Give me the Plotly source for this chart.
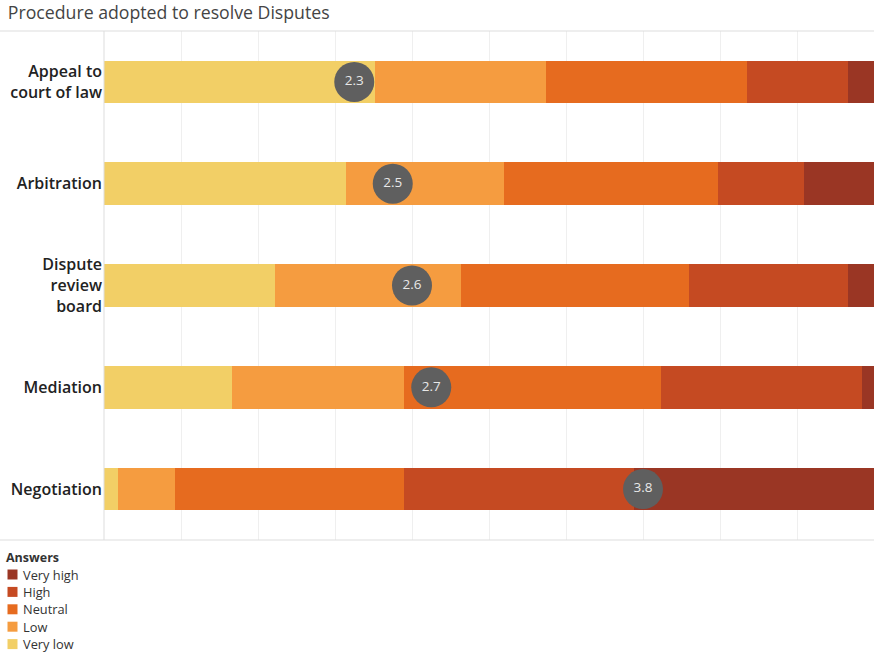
import plotly.graph_objects as go

categories = ["Appeal to<br>court of law", "Arbitration", "Dispute<br>review<br>board", "Mediation", "Negotiation"]
answers = ["Very low", "Low", "Neutral", "High", "Very high"]
colors = ["#F2CF66", "#F59C40", "#E66B1F", "#C54A22", "#9A3624"]

very_low = [35.2, 31.4, 22.2, 16.6, 1.8]
low = [22.2, 20.5, 24.2, 22.4, 7.4]
neutral = [26.1, 27.8, 29.6, 33.3, 29.8]
high = [13.1, 11.2, 20.6, 26.1, 29.8]
very_high = [3.4, 9.1, 3.4, 1.6, 31.2]
series = [very_low, low, neutral, high, very_high]

mean_scores = [2.3, 2.5, 2.6, 2.7, 3.8]
legend_title = "Answers"

fig = go.Figure()
for name, vals, col in zip(answers, series, colors):
    fig.add_trace(go.Bar(
        y=categories, x=vals, name=name, orientation="h",
        marker=dict(color=col, line=dict(width=0)), width=0.42,
        hoverinfo="x+y+name", showlegend=False,
    ))

# mean score positioned on a 1..5 scale mapped to 0..100
fig.add_trace(go.Scatter(
    y=categories, x=[(m - 1) / 4 * 100 for m in mean_scores],
    mode="markers+text", text=[f"{m:.1f}" for m in mean_scores],
    textposition="middle center",
    textfont=dict(color="#e8e8e8", size=13.5, family="Open Sans"),
    marker=dict(size=40, color="#5f5f5f", line=dict(width=0)),
    showlegend=False, hoverinfo="text",
))

W, H = 874, 654
L, R, T, B = 104, 0, 31, 114
pw = W - L - R
ph = H - T - B

fig.update_layout(
    width=W, height=H,
    margin=dict(l=L, r=R, t=T, b=B, autoexpand=False),
    barmode="stack",
    plot_bgcolor="white", paper_bgcolor="white",
    font=dict(family="Open Sans", color="#333333"),
    title=dict(text="Procedure adopted to resolve Disputes", x=0.009, xref="container",
               y=1 - 13 / H, yref="container", yanchor="middle",
               font=dict(size=17.7, color="#444444", family="Open Sans")),
    xaxis=dict(range=[0, 100], dtick=10, showticklabels=False, showgrid=True,
               gridcolor="#efefef", gridwidth=1, zeroline=False, fixedrange=True),
    yaxis=dict(autorange="reversed", ticks="", showgrid=False, zeroline=False,
               tickfont=dict(size=16, color="#222222", family="Open Sans", weight=600),
               ticklabelstandoff=1),
    showlegend=False,
)

# legend (drawn in pixel positions of the page)
def px_x(x):
    return (x - L) / pw

def px_y(y):
    return (H - B - y) / ph

fig.add_annotation(text=f"<b>{legend_title}</b>", xref="paper", yref="paper",
                   x=px_x(4), y=px_y(557), xanchor="left", yanchor="middle",
                   showarrow=False, font=dict(size=12.5, color="#333333", family="Open Sans"))
for i, (name, col) in enumerate(zip(answers[::-1], colors[::-1])):
    yc = 574.5 + i * 17.4
    fig.add_shape(type="rect", xref="paper", yref="paper",
                  x0=px_x(7.5), x1=px_x(17.5), y0=px_y(yc - 5), y1=px_y(yc + 5),
                  fillcolor=col, line=dict(width=0))
    fig.add_annotation(text=name, xref="paper", yref="paper",
                       x=px_x(21), y=px_y(yc), xanchor="left", yanchor="middle",
                       showarrow=False, font=dict(size=12.8, color="#333333", family="Open Sans"))

line_col = "#dddddd"
fig.add_shape(type="line", xref="paper", yref="paper", x0=-L / pw, x1=1, y0=1, y1=1,
              line=dict(color=line_col, width=1))
fig.add_shape(type="line", xref="paper", yref="paper", x0=-L / pw, x1=1, y0=0, y1=0,
              line=dict(color=line_col, width=1))
fig.add_shape(type="line", xref="paper", yref="paper", x0=0, x1=0, y0=0, y1=1,
              line=dict(color=line_col, width=1))

fig.write_html("out.html")
